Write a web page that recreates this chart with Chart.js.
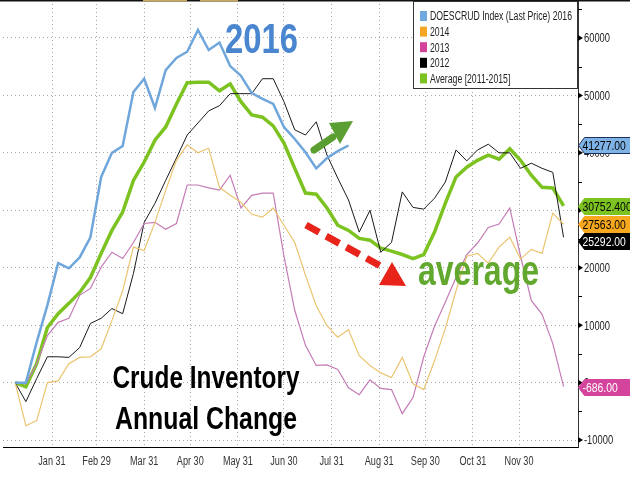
<!DOCTYPE html>
<html>
<head>
<meta charset="utf-8">
<script src="https://cdn.jsdelivr.net/npm/chart.js@4.4.0/dist/chart.umd.min.js"></script>
<style>
  html, body { margin: 0; padding: 0; background: #fff; }
</style>
</head>
<body>
<canvas id="crudeChart" width="630" height="490"></canvas>
<script>
// weekly points, day of year (2016)
var weekDays = [7, 14, 21, 28, 35, 42, 49, 56, 63, 70, 77, 84, 91, 98, 105, 112, 119, 126, 133, 140,
  147, 154, 161, 168, 175, 182, 189, 196, 203, 210, 217, 224, 231, 238, 245, 252, 259, 266, 273, 280,
  287, 294, 301, 308, 315, 322, 329, 336, 343, 350, 357, 364];

var monthTicks = [31, 60, 91, 121, 152, 182, 213, 244, 274, 305, 335];
var monthLabels = ['Jan 31', 'Feb 29', 'Mar 31', 'Apr 30', 'May 31', 'Jun 30', 'Jul 31', 'Aug 31', 'Sep 30', 'Oct 31', 'Nov 30'];
var yTicks = [-10000, 0, 10000, 20000, 30000, 40000, 50000, 60000];

var series2016 = [0, 0, 7000, 13500, 20800, 19900, 21800, 25300, 35800, 40000, 41200, 50600, 52900, 47800, 54400, 56500,
  57600, 61400, 57900, 59200, 55100, 53400, 50400, 49400, 48500, 44500, 42400, 40100, 37300, 39100, 40300, 41277];
var series2014 = [0, -7500, -6600, 0, 300, 3300, 4400, 4500, 5900, 10800, 16000, 23600, 23000, 27900, 33500, 38700,
  41400, 40000, 40800, 34000, 32600, 31400, 29300, 28800, 30400, 27400, 24400, 18700, 13400, 9900, 7900, 9200,
  4700, 3000, 1700, 900, 4400, -200, -1200, 3800, 9400, 16000, 22000, 22500, 20800, 23600, 25300, 21500,
  23200, 22500, 29500, 27563];
var series2013 = [0, -200, 3300, 8200, 10500, 11200, 15200, 16400, 20100, 22700, 21600, 24400, 27700, 27900, 26700, 27700,
  34400, 34400, 33900, 33500, 36100, 30400, 32600, 33000, 33000, 22000, 12600, 6500, 3000, 3100, 2300, -900,
  -2100, 500, -1000, -1200, -5400, -2600, 4500, 9800, 14000, 18300, 22300, 24300, 27000, 27600, 30400, 22000,
  14300, 11900, 6800, -686];
var series2012 = [0, -3300, 700, 4500, 4500, 4400, 6100, 10300, 11200, 12900, 12000, 19000, 27900, 31200, 35200, 39100,
  43100, 45200, 47300, 48200, 50300, 50300, 50300, 52900, 52900, 48900, 44000, 43100, 45400, 39600, 35600, 31800,
  26200, 30000, 22700, 24400, 33200, 30500, 30200, 32100, 34900, 40500, 38600, 40500, 41500, 40000, 40000, 37300,
  38200, 37300, 36600, 25292];
var seriesAvg = [0, -700, 3300, 9600, 12000, 13800, 15700, 18300, 22500, 26500, 29700, 35200, 38400, 42200, 44500, 48500,
  52200, 52300, 52300, 50800, 52000, 48900, 46600, 46200, 44700, 41700, 37300, 33000, 32800, 30400, 27400, 26500,
  25100, 24800, 23400, 22900, 22300, 21600, 22300, 26200, 31200, 35800, 37500, 38700, 39600, 38900, 40700, 38700,
  36100, 34000, 33900, 30752.4004];

var FONT = '"Liberation Sans", Arial, sans-serif';

function pts(values) {
  return values.map(function (v, i) { return { x: weekDays[i], y: v }; });
}

// text squeezed horizontally (the original uses a narrow face)
function squeeze(ctx, text, x, y, sx, align) {
  ctx.save();
  ctx.translate(x, y);
  ctx.scale(sx, 1);
  ctx.textAlign = align || 'left';
  ctx.fillText(text, 0, 0);
  ctx.restore();
}
function fitText(ctx, text, x, y, width, align) {
  squeeze(ctx, text, x, y, width / ctx.measureText(text).width, align);
}

var tagStyle = [
  { fill: '#7fb3e6', stroke: '#1d2f5c', text: '#000', digits: 2, swatch: '#6fa8dc' },
  { fill: '#f7a81e', stroke: '#f7a81e', text: '#000', digits: 2, swatch: '#f5a623' },
  { fill: '#d4449c', stroke: '#d4449c', text: '#fff', digits: 2, swatch: '#d2449a' },
  { fill: '#000000', stroke: '#000000', text: '#fff', digits: 2, swatch: '#000000' },
  { fill: '#7cc321', stroke: '#7cc321', text: '#000', digits: 4, swatch: '#7cc321' }
];

var decor = {
  id: 'decor',
  afterDraw: function (chart) {
    var ctx = chart.ctx;
    var area = chart.chartArea;
    var xs = chart.scales.x;
    var ys = chart.scales.y;
    ctx.save();

    // thin strip along the top
    ctx.fillStyle = '#111';
    ctx.fillRect(0, 0, 630, 1.5);
    ctx.fillStyle = '#c9a865';
    ctx.fillRect(143, 0, 44, 1.5);
    ctx.fillRect(200, 0, 38, 1.5);

    // axis labels
    ctx.font = '12px ' + FONT;
    ctx.textBaseline = 'middle';
    ctx.fillStyle = '#333';
    xs.ticks.forEach(function (tk) {
      squeeze(ctx, monthLabels[monthTicks.indexOf(tk.value)], xs.getPixelForValue(tk.value), area.bottom + 15, 0.76, 'center');
    });
    ctx.fillStyle = '#222';
    ys.ticks.forEach(function (tk) {
      squeeze(ctx, String(tk.value), area.right + 6, ys.getPixelForValue(tk.value) + 1, 0.78, 'left');
    });

    // right axis tick marks
    for (var v = -10000; v <= 65000; v += 5000) {
      var py = ys.getPixelForValue(v);
      ctx.fillStyle = '#000';
      ctx.strokeStyle = '#000';
      if (v % 10000 === 0) {
        ctx.beginPath();
        ctx.moveTo(area.right, py - 3);
        ctx.lineTo(area.right + 5, py);
        ctx.lineTo(area.right, py + 3);
        ctx.closePath();
        ctx.fill();
      } else {
        ctx.lineWidth = 1;
        ctx.beginPath();
        ctx.moveTo(area.right, Math.round(py) + 0.5);
        ctx.lineTo(area.right + 4, Math.round(py) + 0.5);
        ctx.stroke();
      }
    }

    // last value tags
    var tags = chart.data.datasets.map(function (ds, i) {
      var last = ds.data[ds.data.length - 1].y;
      return { i: i, value: last, py: ys.getPixelForValue(last) };
    });
    tags.sort(function (a, b) { return a.py - b.py; });
    for (var t = 1; t < tags.length; t++) {
      if (tags[t].py - tags[t - 1].py < 17) tags[t].py = tags[t - 1].py + 17;
    }
    ctx.font = '13px ' + FONT;
    tags.forEach(function (tg) {
      var st = tagStyle[tg.i];
      var y = Math.round(tg.py) + 0.5;
      var x0 = area.right + 0.5;
      ctx.beginPath();
      ctx.moveTo(x0, y);
      ctx.lineTo(x0 + 6, y - 8);
      ctx.lineTo(631, y - 8);
      ctx.lineTo(631, y + 8);
      ctx.lineTo(x0 + 6, y + 8);
      ctx.closePath();
      ctx.fillStyle = st.fill;
      ctx.fill();
      ctx.lineWidth = 1;
      ctx.strokeStyle = st.stroke;
      ctx.stroke();
      ctx.fillStyle = st.text;
      squeeze(ctx, tg.value.toFixed(st.digits), x0 + 4, y + 1, 0.8, 'left');
    });

    // legend box
    ctx.fillStyle = '#fff';
    ctx.fillRect(413.5, 1.5, 164, 87);
    ctx.strokeStyle = '#333';
    ctx.lineWidth = 1;
    ctx.strokeRect(413.5, 1.5, 164, 87);
    ctx.font = '12px ' + FONT;
    var lw = ctx.measureText(chart.data.datasets[0].label).width;
    var lsx = 142 / lw;
    chart.data.datasets.forEach(function (ds, i) {
      var ly = 16 + i * 15.6;
      ctx.fillStyle = tagStyle[i].swatch;
      ctx.fillRect(420, ly - 5, 7, 10);
      ctx.fillStyle = '#222';
      squeeze(ctx, ds.label, 430, ly + 1, lsx, 'left');
    });

    // annotations
    ctx.textBaseline = 'alphabetic';
    ctx.fillStyle = '#4a86d0';
    ctx.font = 'bold 42px ' + FONT;
    fitText(ctx, '2016', 225, 53, 73, 'left');

    ctx.fillStyle = '#62a82e';
    ctx.font = 'bold 42px ' + FONT;
    fitText(ctx, 'average', 418, 285, 121, 'left');

    ctx.fillStyle = '#000';
    ctx.font = 'bold 32px ' + FONT;
    fitText(ctx, 'Crude Inventory', 206, 388, 187, 'center');
    fitText(ctx, 'Annual Change', 206, 429, 182, 'center');

    // green arrow
    ctx.strokeStyle = '#5b9e31';
    ctx.fillStyle = '#5b9e31';
    ctx.lineWidth = 7;
    ctx.lineCap = 'round';
    ctx.beginPath();
    ctx.moveTo(314, 150);
    ctx.lineTo(333, 137);
    ctx.stroke();
    ctx.beginPath();
    ctx.moveTo(329, 123);
    ctx.lineTo(353, 121);
    ctx.lineTo(340, 144);
    ctx.closePath();
    ctx.fill();

    // red dashed arrow
    ctx.strokeStyle = '#e8231a';
    ctx.fillStyle = '#e8231a';
    ctx.lineWidth = 7;
    ctx.lineCap = 'butt';
    ctx.setLineDash([15, 8]);
    ctx.beginPath();
    ctx.moveTo(306, 225);
    ctx.lineTo(386, 269);
    ctx.stroke();
    ctx.setLineDash([]);
    ctx.beginPath();
    ctx.moveTo(406, 286);
    ctx.lineTo(379, 285);
    ctx.lineTo(392, 262);
    ctx.closePath();
    ctx.fill();

    ctx.restore();
  }
};

var crudeChart = new Chart(document.getElementById('crudeChart'), {
  type: 'line',
  data: {
    datasets: [
      { label: 'DOESCRUD Index (Last Price) 2016', data: pts(series2016), borderColor: '#6fa6dc', borderWidth: 2.5 },
      { label: '2014', data: pts(series2014), borderColor: '#ebc470', borderWidth: 1.2 },
      { label: '2013', data: pts(series2013), borderColor: '#c47cb6', borderWidth: 1.2 },
      { label: '2012', data: pts(series2012), borderColor: '#1a1a1a', borderWidth: 1 },
      { label: 'Average [2011-2015]', data: pts(seriesAvg), borderColor: '#7cc321', borderWidth: 3.5 }
    ]
  },
  options: {
    responsive: false,
    animation: false,
    devicePixelRatio: 1,
    layout: { padding: { left: 3, top: 0, right: 0, bottom: 0 } },
    elements: { point: { radius: 0 }, line: { tension: 0, fill: false } },
    plugins: { legend: { display: false }, tooltip: { enabled: false } },
    scales: {
      x: {
        type: 'linear',
        min: -0.9,
        max: 373.4,
        afterBuildTicks: function (s) { s.ticks = monthTicks.map(function (v) { return { value: v }; }); },
        afterFit: function (s) { s.height = 43; },
        ticks: { display: false },
        grid: { color: '#a8a8a8', drawTicks: false },
        border: { display: true, color: '#000', width: 1, dash: [1, 3] }
      },
      y: {
        position: 'right',
        min: -11200,
        max: 66600,
        afterBuildTicks: function (s) { s.ticks = yTicks.map(function (v) { return { value: v }; }); },
        afterFit: function (s) { s.width = 52; },
        ticks: { display: false },
        grid: { color: '#a8a8a8', drawTicks: false },
        border: { display: true, color: '#333', width: 1, dash: [1, 3] }
      }
    }
  },
  plugins: [decor]
});
</script>
</body>
</html>
